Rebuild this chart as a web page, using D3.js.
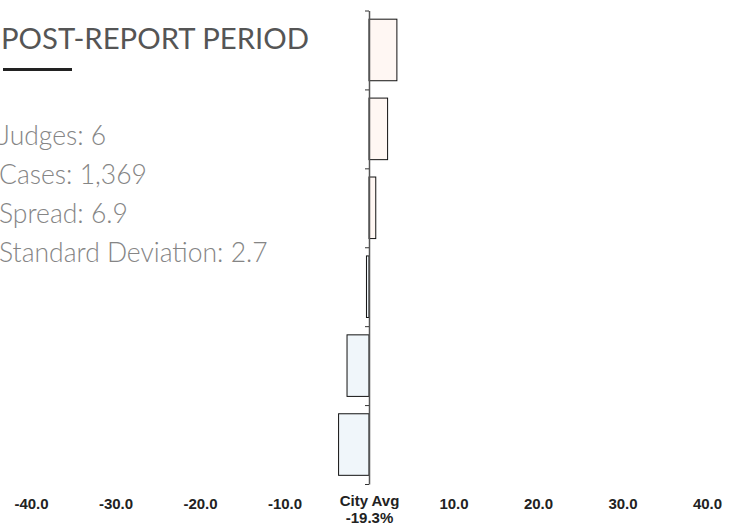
<!DOCTYPE html>
<html>
<head>
<meta charset="utf-8">
<script src="https://cdn.jsdelivr.net/npm/d3@7/dist/d3.min.js"></script>
<style>
  html, body { margin: 0; padding: 0; background: #fff; }
  svg { display: block; }
</style>
</head>
<body>
<svg id="chart" width="734" height="527"></svg>
<script>
// ---- data ----
const categories = ["Judge 1", "Judge 2", "Judge 3", "Judge 4", "Judge 5", "Judge 6"];
const values = [3.3, 2.2, 0.8, -0.3, -2.6, -3.6];
const xTicks = [-40, -30, -20, -10, 0, 10, 20, 30, 40];
const xTickLabels = ["-40.0", "-30.0", "-20.0", "-10.0", "City Avg|-19.3%", "10.0", "20.0", "30.0", "40.0"];
const titleText = "POST-REPORT PERIOD";
const statLines = ["Judges: 6", "Cases: 1,369", "Spread: 6.9", "Standard Deviation: 2.7"];

const svg = d3.select("#chart");

// ---- scales ----
const x = d3.scaleLinear().domain([-40, 40]).range([31, 707]);
const y = d3.scaleBand().domain(categories).range([10.5, 484]).paddingInner(0.22).paddingOuter(0.11);
const yEdge = d3.scaleLinear().domain([0, categories.length]).range([10.5, 484]);

// ---- title & stats ----
svg.append("text")
  .attr("x", 1).attr("y", 49)
  .attr("font-family", "Lato, sans-serif")
  .attr("font-weight", 400)
  .attr("font-size", 29.3)
  .attr("fill", "#555")
  .text(titleText);

svg.append("rect")
  .attr("x", 3).attr("y", 68).attr("width", 69).attr("height", 3)
  .attr("fill", "#222");

svg.selectAll("text.stat").data(statLines).join("text")
  .attr("class", "stat")
  .attr("x", -1)
  .attr("y", (d, i) => 145 + i * 39)
  .attr("font-family", "Lato, sans-serif")
  .attr("font-weight", 300)
  .attr("font-size", 26.5)
  .attr("fill", "#858585")
  .text(d => d);

// ---- bars ----
svg.append("g").selectAll("rect").data(values).join("rect")
  .attr("x", d => Math.min(x(0), x(d)))
  .attr("y", (d, i) => y(categories[i]))
  .attr("width", d => Math.abs(x(d) - x(0)))
  .attr("height", y.bandwidth())
  .attr("fill", d => d >= 0 ? "#fff7f3" : "#f0f6fa")
  .attr("stroke", "#111")
  .attr("stroke-width", 1);

// ---- vertical axis at city average ----
const yAxis = svg.append("g")
  .attr("transform", `translate(${x(0)},0)`)
  .call(d3.axisLeft(yEdge).ticks(categories.length).tickSize(4).tickSizeOuter(0).tickFormat(""));
yAxis.select(".domain").attr("stroke", "#555").attr("stroke-width", 1.5);
yAxis.selectAll(".tick line").attr("stroke", "#333");

// ---- horizontal tick labels ----
const xAxis = svg.append("g")
  .attr("transform", "translate(0,500)")
  .call(d3.axisBottom(x).tickValues(xTicks).tickSize(0).tickFormat((d, i) => xTickLabels[i]));
xAxis.select(".domain").remove();
xAxis.selectAll(".tick text")
  .attr("font-family", "'Liberation Sans', Arial, sans-serif")
  .attr("font-weight", 700)
  .attr("font-size", 15)
  .attr("fill", "#222")
  .attr("dy", null)
  .attr("y", 8.5)
  .each(function(d, i) {
    const lbl = xTickLabels[i];
    if (lbl.includes("|")) {
      const parts = lbl.split("|");
      const t = d3.select(this).text(null).attr("y", null);
      t.append("tspan").attr("x", 0).attr("y", 5.5).text(parts[0]);
      t.append("tspan").attr("x", 0).attr("y", 22.5).text(parts[1]);
    }
  });
</script>
</body>
</html>
